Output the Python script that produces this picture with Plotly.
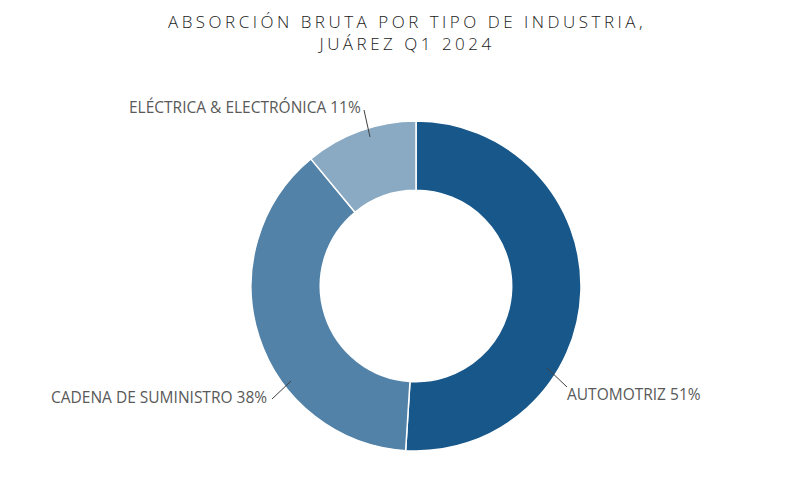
import plotly.graph_objects as go

# data
industries = ['AUTOMOTRIZ', 'CADENA DE SUMINISTRO', 'ELÉCTRICA & ELECTRÓNICA']
shares = [51, 38, 11]
colors = ['#18578A', '#5282A8', '#8AAAC3']

W, H = 803, 496
OFF = 8  # page body margin
ML, MR, MT, MB = 21, 8, 113, 53


def to_paper(px, py):
    # page pixels -> paper coords
    px, py = px - OFF, py - OFF
    return (px - ML) / (W - ML - MR), 1 - (py - MT) / (H - MT - MB)


# label placement (page pixels): leader line start, end, text anchor, xanchor
label_pos = [
    ((547, 368), (567, 387), (565, 394), 'left'),
    ((291, 381), (272, 399), (269, 397), 'right'),
    ((370, 137), (364, 110), (363, 107), 'right'),
]

fig = go.Figure()
fig.add_pie(
    labels=industries, values=shares,
    hole=0.58, sort=False, direction='clockwise', rotation=0,
    marker=dict(colors=colors, line=dict(color='white', width=1.5)),
    textinfo='none', hoverinfo='label+percent',
    showlegend=False,
)

for name, val, (p0, p1, pt, anchor) in zip(industries, shares, label_pos):
    x0, y0 = to_paper(*p0)
    x1, y1 = to_paper(*p1)
    fig.add_shape(type='line', xref='paper', yref='paper',
                  x0=x0, y0=y0, x1=x1, y1=y1,
                  line=dict(color='#404040', width=1))
    tx, ty = to_paper(*pt)
    fig.add_annotation(x=tx, y=ty, xref='paper', yref='paper',
                       text=f'{name} {val}%', showarrow=False,
                       xanchor=anchor, yanchor='middle',
                       font=dict(family='Open Sans', size=15.5, color='#595959'))

fig.update_layout(
    width=W, height=H,
    margin=dict(l=ML, r=MR, t=MT, b=MB, autoexpand=False),
    paper_bgcolor='white', plot_bgcolor='white',
    title=dict(
        text='ABSORCIÓN BRUTA POR TIPO DE INDUSTRIA,<br>JUÁREZ Q1 2024',
        x=0.497, xref='container', xanchor='center',
        y=1 - 20 / H, yref='container', yanchor='middle',
        font=dict(family='Open Sans', size=17, color='#1a1a1a', weight=300),
    ),
)

# spaced-out title lettering
spacing_js = "document.querySelectorAll('.gtitle').forEach(function(e){e.style.letterSpacing='3.5px';});"
fig.write_html('out.html', post_script=spacing_js)
